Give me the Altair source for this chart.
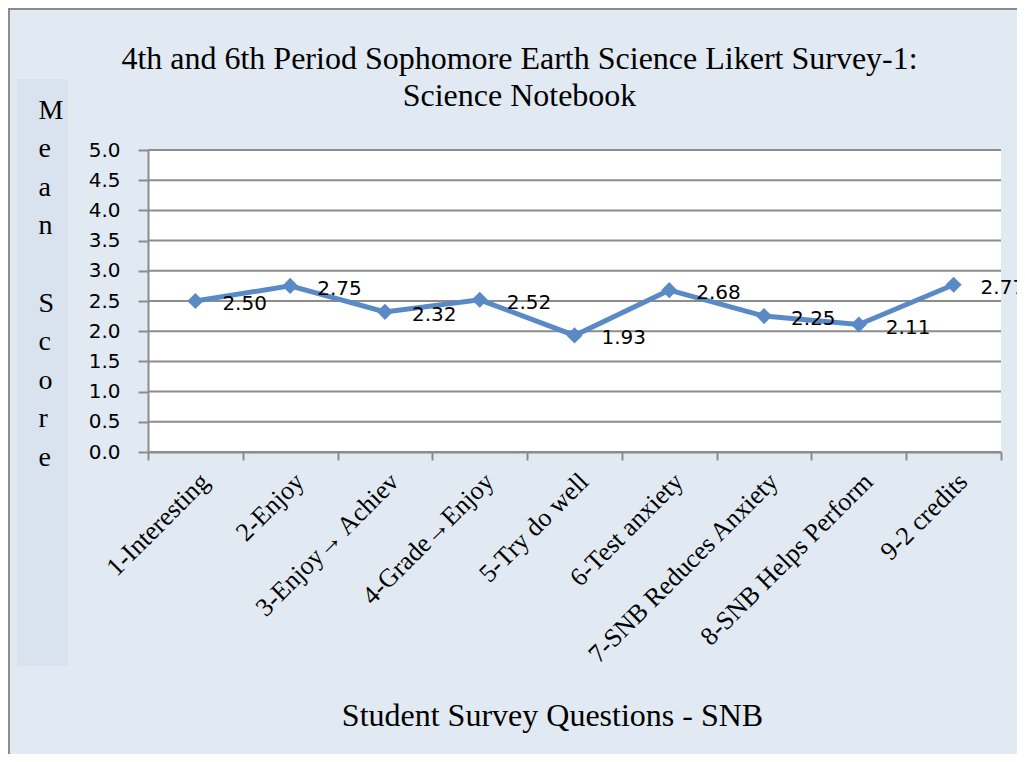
import altair as alt
import pandas as pd

questions = [
    "1-Interesting",
    "2-Enjoy",
    "3-Enjoy\u2192 Achiev",
    "4-Grade\u2192Enjoy",
    "5-Try do well",
    "6-Test anxiety",
    "7-SNB Reduces Anxiety",
    "8-SNB Helps Perform",
    "9-2 credits",
]
means = [2.50, 2.75, 2.32, 2.52, 1.93, 2.68, 2.25, 2.11, 2.77]
y_ticks = [0.0, 0.5, 1.0, 1.5, 2.0, 2.5, 3.0, 3.5, 4.0, 4.5, 5.0]
title_lines = ["4th and 6th Period Sophomore Earth Science Likert Survey-1:", "Science Notebook"]
y_title_letters = ["M", "e", "a", "n", "\u200b", "S", "c", "o", "r", "e"]
x_title = "Student Survey Questions - SNB"

df = pd.DataFrame({"q": questions, "m": means})
df["lbl"] = [f"{v:.2f}" for v in means]
grid_df = pd.DataFrame({"m": y_ticks})

W, H = 853, 302
PAD = {"left": 140, "top": 142, "right": 16, "bottom": 302}

BG = "#e1e9f2"
BOX = "#d8e3ef"
LINE = "#5a8ac6"
GRID = "#8c8c8c"

x_enc = alt.X(
    "q:N",
    sort=questions,
    scale=alt.Scale(domain=questions, paddingInner=0, paddingOuter=0),
    axis=alt.Axis(
        title=x_title,
        titleFont="Liberation Serif",
        titleFontSize=32,
        titleFontWeight="normal",
        titleColor="#000000",
        titleAlign="center",
        titleBaseline="alphabetic",
        titleX=404,
        titleY=273,
        labelFont="Liberation Serif",
        labelFontSize=26,
        labelColor="#000000",
        labelAngle=-45,
        labelAlign="right",
        labelBaseline="top",
        labelPadding=8,
        labelLimit=0,
        labelOverlap=False,
        tickBand="extent",
        tickSize=8,
        tickColor=GRID,
        tickWidth=2,
        domainColor=GRID,
        domainWidth=2,
        grid=False,
        zindex=1,
    ),
)

y_scale = alt.Scale(domain=[0, 5], nice=False)
y_axis = alt.Axis(
    title=y_title_letters,
    titleFont="Liberation Serif",
    titleFontSize=28,
    titleFontWeight="normal",
    titleColor="#000000",
    titleAngle=0,
    titleAlign="left",
    titleBaseline="alphabetic",
    titleX=-110,
    titleY=-32,
    titleLineHeight=38.6,
    values=y_ticks,
    format=".1f",
    labelFont="DejaVu Sans",
    labelFontSize=20,
    labelColor="#000000",
    labelPadding=18,
    labelOverlap=False,
    labelFlush=False,
    tickSize=10,
    tickColor=GRID,
    tickWidth=2,
    domainColor=GRID,
    domainWidth=2,
    grid=False,
    zindex=1,
)
y_enc = alt.Y("m:Q", scale=y_scale, axis=y_axis)

frame = alt.Chart(df).mark_rect(fillOpacity=0, stroke="#8c8c8c", strokeWidth=3).encode(
    x=alt.value(-PAD["left"] + 0.5),
    x2=alt.value(W + PAD["right"] + 20),
    y=alt.value(-PAD["top"] + 0.5),
    y2=alt.value(H + PAD["bottom"] + 20),
)

ybox = alt.Chart(df).mark_rect(fill=BOX).encode(
    x=alt.value(17 - 148),
    x2=alt.value(68 - 148),
    y=alt.value(79 - 150),
    y2=alt.value(666 - 150),
)

gridlines = alt.Chart(grid_df).mark_rule(color=GRID, strokeWidth=2).encode(
    y=y_enc,
    x=alt.value(0),
    x2=alt.value(W),
)

base = alt.Chart(df)
line = base.mark_line(color=LINE, strokeWidth=5).encode(x=x_enc, y=y_enc)
pts = base.mark_point(shape="diamond", filled=True, size=260, color=LINE, opacity=1).encode(
    x=x_enc, y=y_enc
)
labels = base.mark_text(
    align="left", baseline="middle", dx=27, dy=3,
    font="DejaVu Sans", fontSize=20, color="#000000"
).encode(x=x_enc, y=y_enc, text="lbl:N")

chart = alt.layer(frame, ybox, gridlines, line, pts, labels).properties(
    width=W,
    height=H,
    padding=PAD,
    autosize=alt.AutoSizeParams(type="none"),
    background=BG,
    title=alt.TitleParams(
        text=title_lines,
        font="Liberation Serif",
        fontSize=32,
        fontWeight="normal",
        color="#000000",
        anchor="middle",
        frame="group",
        dx=-55,
        offset=-106,
        lineHeight=37,
    ),
).configure_view(stroke=None, fill="white")

chart.save("out.html", embed_options={"renderer": "svg", "actions": False})
